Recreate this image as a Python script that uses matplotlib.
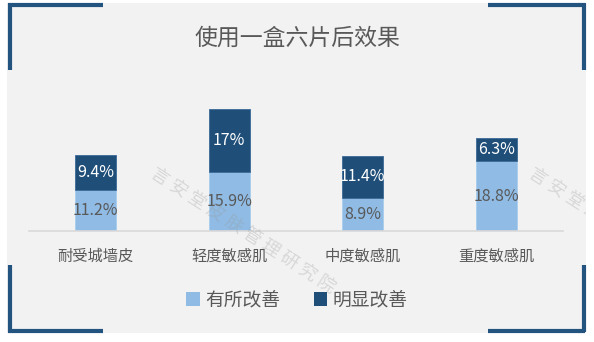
import matplotlib.pyplot as plt
from matplotlib.patches import Rectangle, Patch
from matplotlib.lines import Line2D

plt.rcParams['font.family'] = ['Noto Sans CJK SC', 'DejaVu Sans']

categories = ['耐受城墙皮', '轻度敏感肌', '中度敏感肌', '重度敏感肌']
some_better = [11.2, 15.9, 8.9, 18.8]     # 有所改善
much_better = [9.4, 17, 11.4, 6.3]        # 明显改善
series_names = ['有所改善', '明显改善']
title = '使用一盒六片后效果'
watermark = '言安堂皮肤管理研究院'

light = '#8fbbe4'
dark = '#1f4e79'
grey_txt = '#595959'
W, H = 594, 342

fig = plt.figure(figsize=(W / 100, H / 100), dpi=100, facecolor='white')

# grey panel + corner brackets
panel = Rectangle((7 / W, 1 - 333 / H), 579 / W, 330 / H,
                  transform=fig.transFigure, facecolor='#f2f2f2',
                  edgecolor='none', zorder=-10)
fig.patches.append(panel)
bc = '#23547f'
def seg(x0, y0, x1, y1):
    fig.add_artist(Line2D([x0 / W, x1 / W], [1 - y0 / H, 1 - y1 / H],
                          color=bc, lw=3, solid_capstyle='butt'))
seg(8, 4.5, 103, 4.5); seg(9.5, 3, 9.5, 70)
seg(488, 4.5, 585, 4.5); seg(583.5, 3, 583.5, 70)
seg(9.5, 265, 9.5, 332); seg(8, 330.5, 103, 330.5)
seg(583.5, 265, 583.5, 332); seg(488, 330.5, 585, 330.5)

ax = fig.add_axes([29 / W, 1 - 231 / H, 534 / W, 148 / H])
ax.set_facecolor('none')
x = range(len(categories))
b1 = ax.bar(x, some_better, width=0.31, color=light, edgecolor='#a9cdee', lw=0.6)
b2 = ax.bar(x, much_better, width=0.31, bottom=some_better, color=dark,
            edgecolor='#3a6a96', lw=0.6)
ax.bar_label(b1, labels=[f'{v:g}%' for v in some_better], label_type='center',
             color=grey_txt, fontsize=11.5)
ax.bar_label(b2, labels=[f'{v:g}%' for v in much_better], label_type='center',
             color='white', fontsize=11.5)

ax.set_xlim(-0.5, len(categories) - 0.5)
ax.set_ylim(0, 40)
ax.set_xticks(list(x))
ax.set_xticklabels(categories, fontsize=11, color=grey_txt)
ax.tick_params(axis='x', length=0, pad=12)
ax.set_yticks([])
for s in ['top', 'left', 'right']:
    ax.spines[s].set_visible(False)
ax.spines['bottom'].set_color('#d9d9d9')
ax.spines['bottom'].set_linewidth(1.2)

fig.text(0.5, 1 - 38 / H, title, ha='center', va='center',
         fontsize=16.5, color=grey_txt)

handles = [Patch(facecolor=light), Patch(facecolor=dark)]
fig.legend(handles, series_names, loc='center', bbox_to_anchor=(0.5, 1 - 300 / H),
           ncol=2, frameon=False, fontsize=13.5, labelcolor=grey_txt,
           handlelength=0.7, handleheight=0.7, handletextpad=0.3, columnspacing=1.8)

# faint watermarks, drawn over the bars, clipped to the panel
wm = ' '.join(watermark)
for wx in (157, 535):
    t = fig.text(wx / W, 1 - 164 / H, wm, ha='left', va='top', rotation=-33,
                 rotation_mode='anchor', fontsize=13, color='#9a9a9a', alpha=0.3,
                 zorder=10)
    t.set_clip_path(panel)

fig.savefig('out.png', dpi=100, facecolor='white')
